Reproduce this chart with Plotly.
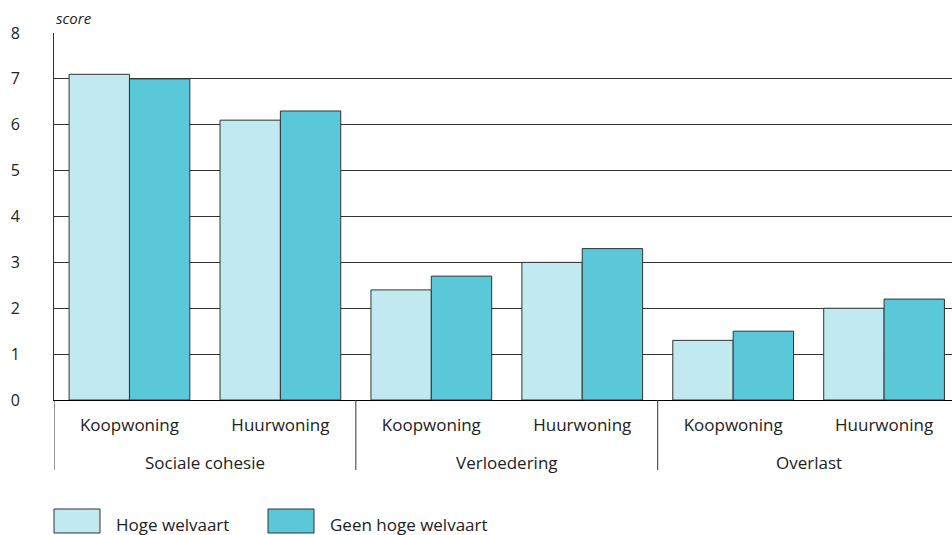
import plotly.graph_objects as go

# data
groups = ["Sociale cohesie", "Verloedering", "Overlast"]
woning = ["Koopwoning", "Huurwoning"]
series = ["Hoge welvaart", "Geen hoge welvaart"]
hoge = [7.1, 6.1, 2.4, 3.0, 1.3, 2.0]
geen = [7.0, 6.3, 2.7, 3.3, 1.5, 2.2]
y_ticks = [0, 1, 2, 3, 4, 5, 6, 7, 8]

colors = ["#c0eaf0", "#5ac8d8"]
line_col = "#333333"
font = "Open Sans"
PH = 367.0  # plot height in px
PW = 898.0  # plot width in px

xs = list(range(len(hoge)))
sub_labels = woning * len(groups)

fig = go.Figure()
for name, vals, col in zip(series, [hoge, geen], colors):
    fig.add_trace(go.Bar(x=xs, y=vals, name=name, marker=dict(color=col, line=dict(color=line_col, width=1)),
                         showlegend=False))

fig.update_layout(
    width=952, height=535,
    margin=dict(l=54, r=0, t=33, b=135),
    paper_bgcolor="white", plot_bgcolor="white",
    barmode="group", bargap=0.2, bargroupgap=0,
    font=dict(family=font, size=16, color="#222"),
)
fig.update_xaxes(range=[-0.5, 5.45], tickvals=xs, ticktext=sub_labels, showgrid=False,
                 showline=True, linecolor="black", linewidth=1, ticks="", ticklabelstandoff=10,
                 tickfont=dict(size=17), zeroline=False)
fig.update_yaxes(range=[0, 8], tickvals=y_ticks, showgrid=True, gridcolor=line_col, gridwidth=1,
                 showline=True, linecolor=line_col, linewidth=1, ticks="", ticklabelstandoff=30,
                 zeroline=False)

# group labels and separators
for i, g in enumerate(groups):
    fig.add_annotation(x=2 * i + 0.5, y=-62 / PH, xref="x", yref="paper", text=g, showarrow=False,
                       yanchor="middle", font=dict(size=17))
    fig.add_shape(type="line", x0=2 * i - 0.5, x1=2 * i - 0.5, y0=0, y1=-70 / PH, xref="x", yref="paper",
                  line=dict(color=line_col, width=1))

# y title
fig.add_annotation(x=0, y=1 + 15 / PH, xref="paper", yref="paper", text="<i>score</i>", showarrow=False,
                   xanchor="left", yanchor="middle", font=dict(size=15))

# legend
leg_x = [0, 214 / PW]
for name, col, lx in zip(series, colors, leg_x):
    fig.add_shape(type="rect", x0=lx, x1=lx + 46 / PW, y0=-109 / PH, y1=-133 / PH, xref="paper", yref="paper",
                  fillcolor=col, line=dict(color=line_col, width=1))
    fig.add_annotation(x=lx + 60 / PW, y=-124 / PH, xref="paper", yref="paper", text=name, showarrow=False,
                       xanchor="left", yanchor="middle", font=dict(size=17))

# drop the default 8px body margin so the figure fills the window exactly
fig.write_html("out.html", config={"displayModeBar": False},
               post_script="document.body.style.margin='0px';")
